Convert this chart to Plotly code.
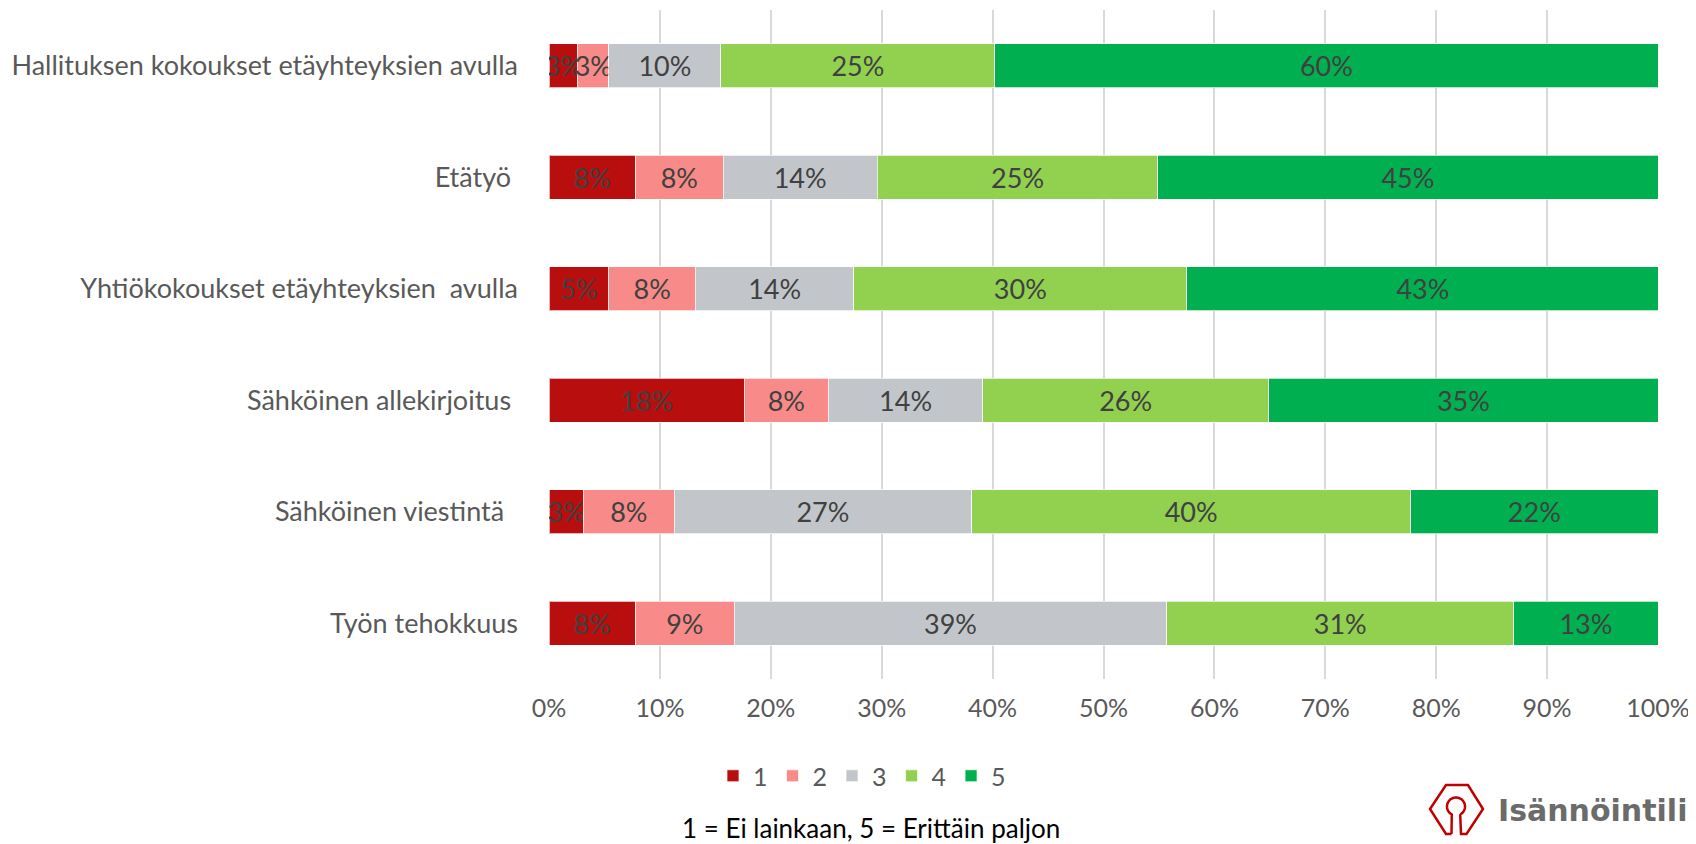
import numpy as np
import plotly.graph_objects as go

# ---------------- data ----------------
categories = [
    "Hallituksen kokoukset etäyhteyksien avulla",
    "Etätyö\u00a0",
    "Yhtiökokoukset etäyhteyksien\u00a0 avulla",
    "Sähköinen allekirjoitus\u00a0",
    "Sähköinen viestintä\u00a0\u00a0",
    "Työn tehokkuus",
]
series_names = ["1", "2", "3", "4", "5"]
s1 = [2.6, 7.8, 5.4, 17.6, 3.1, 7.8]
s2 = [2.8, 7.9, 7.8, 7.6, 8.2, 8.9]
s3 = [10.1, 13.9, 14.3, 13.9, 26.8, 39.0]
s4 = [24.7, 25.3, 30.0, 25.8, 39.6, 31.3]
s5 = [59.8, 45.1, 42.6, 35.1, 22.3, 13.0]
series_values = [s1, s2, s3, s4, s5]
x_tick_values = [0, 10, 20, 30, 40, 50, 60, 70, 80, 90, 100]
x_tick_labels = ["0%", "10%", "20%", "30%", "40%", "50%", "60%", "70%", "80%", "90%", "100%"]
subtitle = "1 = Ei lainkaan, 5 = Erittäin paljon"
logo_text = "Isännöintiliitto"

colors = ["#B90E0E", "#F88B89", "#C2C6CA", "#92D050", "#00B050"]

# ---------------- layout geometry ----------------
OFF = 8                      # page body margin of the html page
W, H = 1696 - OFF, 844 - OFF
ML, MR, MT, MB = 549 - OFF, 38, 10 - OFF, 165
PW, PH = W - ML - MR, H - MT - MB


def px(x):
    """window pixel x -> paper fraction"""
    return (x - OFF - ML) / PW


def py(y):
    """window pixel y -> paper fraction"""
    return (H - MB - (y - OFF)) / PH


FONT = "Lato"
GREY = "#595959"

fig = go.Figure()
for name, vals, col in zip(series_names, series_values, colors):
    fig.add_trace(go.Bar(
        y=categories, x=vals, name=name, orientation="h",
        marker=dict(color=col, line=dict(color="rgba(255,255,255,0.7)", width=1)),
        texttemplate="%{x:.0f}%", textposition="inside",
        insidetextanchor="middle", textangle=0, constraintext="none",
        textfont=dict(family=FONT, size=27, color="#404040"),
        hoverinfo="skip",
    ))

# logo: hexagon with keyhole
cx, cy, r = 1456.0, 806.5, 9.0
pts = [(1451.5, 834), (1446, 834), (1430, 809), (1446, 785), (1468, 785),
       (1483, 809), (1466.5, 834), (1461, 834), (1460.2, 814.4)]
a0 = np.arctan2(814.4 - cy, 1460.2 - cx)
a1 = np.arctan2(814.4 - cy, 1451.8 - cx)
angs = np.linspace(a0, a0 - (2 * np.pi - (a1 - a0)), 40)
for a in angs:
    pts.append((cx + r * np.cos(a), cy + r * np.sin(a)))
pts.append((1451.5, 834))
path = "M " + " L ".join(f"{px(x):.5f},{py(y):.5f}" for x, y in pts)

fig.update_layout(
    width=W, height=H,
    margin=dict(l=ML, r=MR, t=MT, b=MB, autoexpand=False),
    barmode="stack", bargap=0.605,
    plot_bgcolor="white", paper_bgcolor="white",
    font=dict(family=FONT, size=24, color=GREY),
    uniformtext=dict(mode="show", minsize=27),
    xaxis=dict(
        range=[0, 100], tickmode="array", tickvals=x_tick_values, ticktext=x_tick_labels,
        showgrid=True, gridcolor="#D9D9D9", gridwidth=1.5,
        zeroline=False, showline=False, ticks="", ticklabelstandoff=12,
        tickfont=dict(family=FONT, size=25, color=GREY),
        fixedrange=True,
    ),
    yaxis=dict(
        autorange="reversed", showgrid=False, zeroline=False, showline=False,
        ticks="", ticklabelstandoff=30,
        tickfont=dict(family=FONT, size=27, color=GREY),
        fixedrange=True,
    ),
    legend=dict(
        orientation="h", x=px(862), y=py(776), xanchor="center", yanchor="middle",
        font=dict(family=FONT, size=25, color=GREY), traceorder="normal",
        itemclick=False, itemdoubleclick=False,
    ),
    annotations=[
        dict(text=subtitle, x=px(871), y=py(828), xref="paper", yref="paper",
             xanchor="center", yanchor="middle", showarrow=False,
             font=dict(family=FONT, size=26, color="#000000")),
        dict(text=f"<b>{logo_text}</b>", x=px(1496), y=py(810), xref="paper", yref="paper",
             xanchor="left", yanchor="middle", showarrow=False,
             font=dict(family="DejaVu Sans", size=30, color="#6B6B6B")),
    ],
    shapes=[dict(type="path", path=path, xref="paper", yref="paper",
                 line=dict(color="#C00000", width=2.5))],
)

fig.write_html("out.html")
